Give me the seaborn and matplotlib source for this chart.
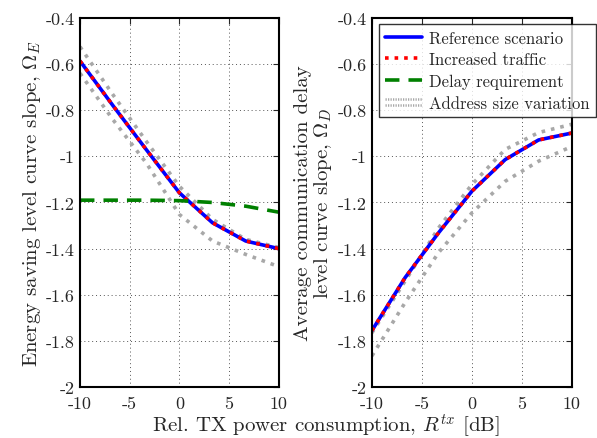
import matplotlib
matplotlib.use("Agg")
import matplotlib.pyplot as plt
import seaborn as sns
from matplotlib.lines import Line2D
from matplotlib.legend_handler import HandlerBase

# ── data ──────────────────────────────────────────────────────────────────
r_tx = [-10, -6.67, -3.33, 0, 3.33, 6.67, 10]

# left panel: energy saving level curve slope
omega_e_ref = [-0.587, -0.781, -0.971, -1.158, -1.288, -1.367, -1.400]
omega_e_traffic = [-0.587, -0.781, -0.971, -1.158, -1.288, -1.367, -1.400]
omega_e_delay = [-1.190, -1.190, -1.190, -1.192, -1.200, -1.216, -1.242]
omega_e_addr_hi = [-0.525, -0.734, -0.935, -1.130, -1.273, -1.360, -1.395]
omega_e_addr_lo = [-0.640, -0.842, -1.029, -1.252, -1.367, -1.425, -1.478]

# right panel: average communication delay level curve slope
omega_d_ref = [-1.755, -1.525, -1.331, -1.151, -1.014, -0.929, -0.899]
omega_d_traffic = [-1.755, -1.525, -1.331, -1.151, -1.014, -0.929, -0.899]
omega_d_addr_hi = [-1.765, -1.540, -1.310, -1.122, -0.970, -0.897, -0.861]
omega_d_addr_lo = [-1.865, -1.633, -1.417, -1.245, -1.108, -1.021, -0.957]

x_ticks = [-10, -5, 0, 5, 10]
y_ticks = [-2, -1.8, -1.6, -1.4, -1.2, -1, -0.8, -0.6, -0.4]
y_tick_labels = ["-2", "-1.8", "-1.6", "-1.4", "-1.2", "-1", "-0.8", "-0.6", "-0.4"]
x_tick_labels = ["-10", "-5", "0", "5", "10"]

legend_labels = ["Reference scenario", "Increased traffic",
                 "Delay requirement", "Address size variation"]

# ── style ────────────────────────────────────────────────────────────────
sns.set_style("white")
plt.rcParams["font.family"] = ["cmr10", "DejaVu Serif"]
plt.rcParams["mathtext.fontset"] = "cm"
plt.rcParams["axes.unicode_minus"] = False
plt.rcParams["axes.formatter.use_mathtext"] = True

BLUE, RED, GREEN, GRAY = "#0000ff", "#ff0000", "#008000", "#a8a8a8"
LW = 2.6
DASH = (0, (4, 2.5))
TICK_FS = 13
LABEL_FS = 15


class DoubleDotHandler(HandlerBase):
    """Legend handle drawn as two thin stacked dotted lines."""

    def create_artists(self, legend, orig_handle, xdescent, ydescent,
                       width, height, fontsize, trans):
        y0 = height / 2 - ydescent
        lines = []
        for dy in (-2.2, 2.2):
            ln = Line2D([-xdescent, width - xdescent], [y0 + dy, y0 + dy],
                        color=GRAY, lw=1.8, linestyle=(0, (0.5, 0.5)))
            ln.set_transform(trans)
            lines.append(ln)
        return lines


fig = plt.figure(figsize=(5.97, 4.39), dpi=100)
ax_e = fig.add_axes([0.134, 0.116, 0.333, 0.841])
ax_d = fig.add_axes([0.623, 0.116, 0.335, 0.841])


def draw(ax, ref, traffic, hi, lo, delay=None):
    sns.lineplot(x=r_tx, y=hi, ax=ax, color=GRAY, lw=LW, linestyle=":")
    sns.lineplot(x=r_tx, y=lo, ax=ax, color=GRAY, lw=LW, linestyle=":")
    sns.lineplot(x=r_tx, y=ref, ax=ax, color=BLUE, lw=LW, linestyle="-")
    sns.lineplot(x=r_tx, y=traffic, ax=ax, color=RED, lw=LW, linestyle=":")
    if delay is not None:
        sns.lineplot(x=r_tx, y=delay, ax=ax, color=GREEN, lw=LW, linestyle=DASH)

    ax.set_xlim(-10, 10)
    ax.set_ylim(-2, -0.4)
    ax.set_xticks(x_ticks)
    ax.set_xticklabels(x_tick_labels, fontsize=TICK_FS)
    ax.set_yticks(y_ticks)
    ax.set_yticklabels(y_tick_labels, fontsize=TICK_FS, va="center_baseline")
    ax.grid(True, linestyle=(0, (1, 3)), color="#555555", lw=0.7)
    ax.tick_params(direction="in", length=4, width=0.8, top=True, right=True)
    ax.tick_params(axis="x", pad=6)
    ax.tick_params(axis="y", pad=4)
    for s in ax.spines.values():
        s.set_linewidth(1.5)
        s.set_color("black")


draw(ax_e, omega_e_ref, omega_e_traffic, omega_e_addr_hi, omega_e_addr_lo,
     delay=omega_e_delay)
draw(ax_d, omega_d_ref, omega_d_traffic, omega_d_addr_hi, omega_d_addr_lo)

ax_e.set_ylabel(r"Energy saving level curve slope, $\Omega_E$",
                fontsize=LABEL_FS, labelpad=2)
ax_d.set_ylabel("Average communication delay\n" + r"level curve slope, $\Omega_D$",
                fontsize=LABEL_FS, labelpad=2, linespacing=1.05)
fig.text(0.546, 0.03, r"Rel. TX power consumption, $R^{tx}$ [dB]",
         ha="center", va="center", fontsize=LABEL_FS)

handles = [
    Line2D([], [], color=BLUE, lw=LW, linestyle="-"),
    Line2D([], [], color=RED, lw=LW, linestyle=":"),
    Line2D([], [], color=GREEN, lw=LW, linestyle=DASH),
    Line2D([], [], color=GRAY),
]
leg = fig.legend(handles, legend_labels, loc="upper right",
                 bbox_to_anchor=(0.998, 0.944), fontsize=12, frameon=True,
                 fancybox=False, borderaxespad=0, handlelength=2.2,
                 handletextpad=0.4, labelspacing=0.38, borderpad=0.4,
                 handler_map={handles[3]: DoubleDotHandler()})
leg.get_frame().set_edgecolor("black")
leg.get_frame().set_linewidth(1.0)

fig.savefig("out.png", dpi=100)
